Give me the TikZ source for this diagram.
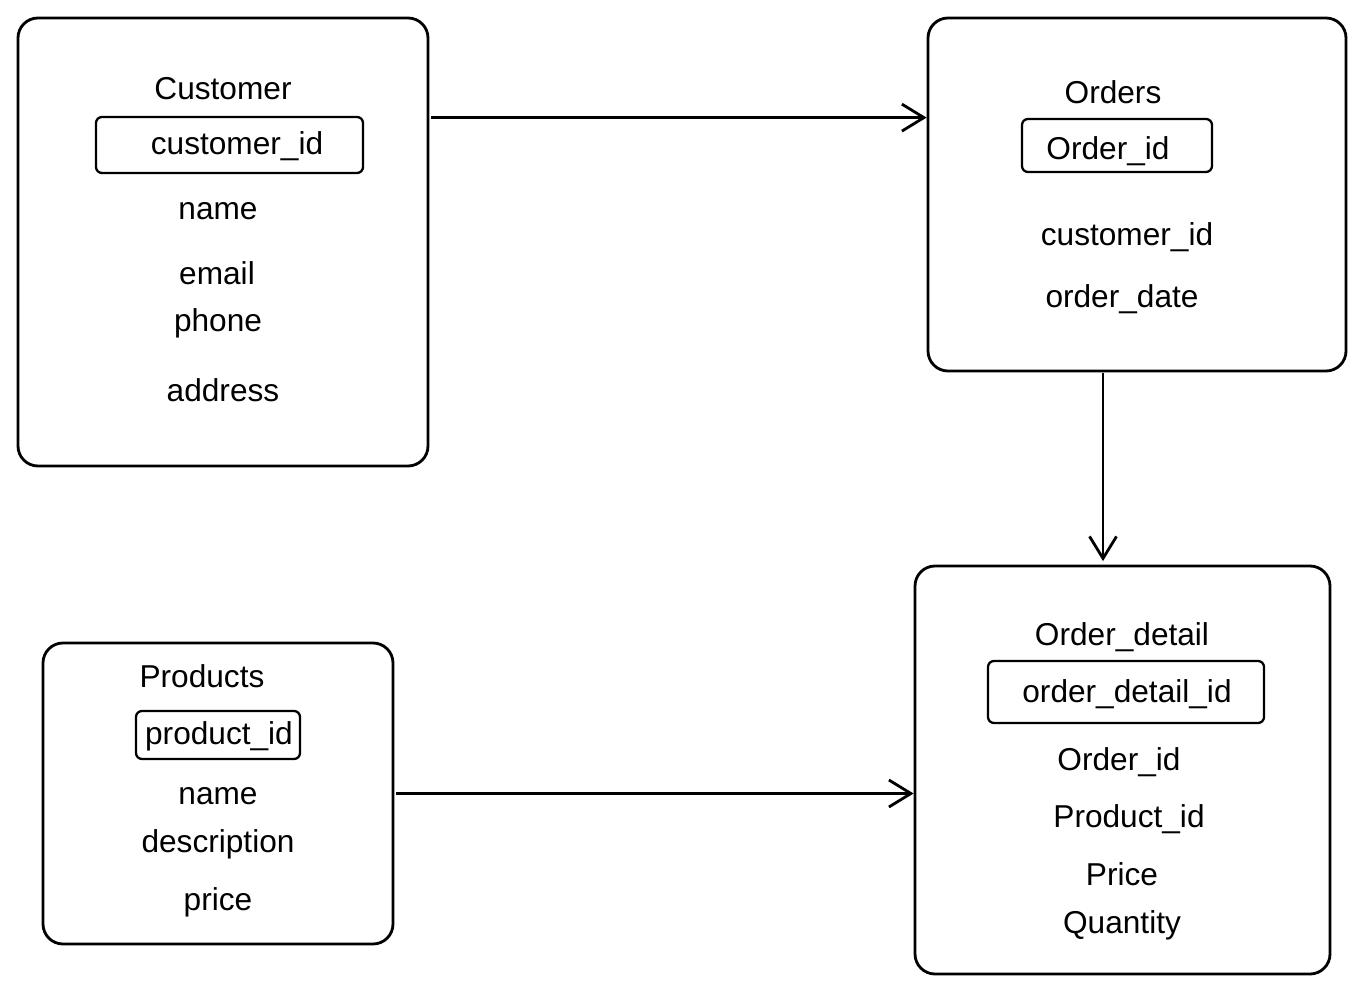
\documentclass[tikz,border=0pt]{standalone}
\usepackage{fontspec}
\setmainfont{Liberation Sans}
\usetikzlibrary{arrows.meta}

\begin{document}
\begin{tikzpicture}
                \tikzstyle{table}=[draw, line width=1.6pt, rounded corners=0.4cm, inner sep=0pt]
                \tikzstyle{keybox}=[draw, line width=1.3pt, rounded corners=0.12cm, inner sep=0pt]
                \tikzstyle{field}=[anchor=base, inner sep=0pt, font=\fontsize{18}{21}\selectfont]
                \tikzstyle{link}=[line width=1.6pt, -{Straight Barb[length=4.4mm, width=5.4mm]}]

                \useasboundingbox (0,0) rectangle (27.34,-19.92);

                % tables
                \node[table, minimum width=8.2cm, minimum height=8.96cm] (a) at (4.46,-4.84) {};
                \node[table, minimum width=8.36cm, minimum height=7.06cm] (b) at (22.74,-3.89) {};
                \node[table, minimum width=8.3cm, minimum height=8.16cm] (d) at (22.45,-15.4) {};
                \node[table, minimum width=7.0cm, minimum height=6.02cm] (p) at (4.36,-15.87) {};

                % key boxes
                \node[keybox, minimum width=5.34cm, minimum height=1.12cm] (ak) at (4.59,-2.90) {};
                \node[keybox, minimum width=3.8cm, minimum height=1.06cm] (bk) at (22.34,-2.91) {};
                \node[keybox, minimum width=5.52cm, minimum height=1.24cm] (dk) at (22.52,-13.84) {};
                \node[keybox, minimum width=3.28cm, minimum height=0.96cm] (pk) at (4.36,-14.70) {};

                % Customer
                \node[field] (a0) at (4.46,-1.98) {Customer};
                \node[field] (a1) at (4.74,-3.08) {customer\_id};
                \node[field] (a2) at (4.36,-4.38) {name};
                \node[field] (a3) at (4.34,-5.68) {email};
                \node[field] (a4) at (4.36,-6.62) {phone};
                \node[field] (a5) at (4.46,-8.02) {address};

                % Orders
                \node[field] (b0) at (22.26,-2.08) {Orders};
                \node[field] (b1) at (22.16,-3.18) {Order\_id};
                \node[field] (b2) at (22.54,-4.90) {customer\_id};
                \node[field] (b3) at (22.44,-6.14) {order\_date};

                % Order_detail
                \node[field] (d0) at (22.44,-12.90) {Order\_detail};
                \node[field] (d1) at (22.54,-14.04) {order\_detail\_id};
                \node[field] (d2) at (22.38,-15.40) {Order\_id};
                \node[field] (d3) at (22.58,-16.54) {Product\_id};
                \node[field] (d4) at (22.44,-17.70) {Price};
                \node[field] (d5) at (22.44,-18.66) {Quantity};

                % Products
                \node[field] (p0) at (4.04,-13.74) {Products};
                \node[field] (p1) at (4.38,-14.88) {product\_id};
                \node[field] (p2) at (4.36,-16.08) {name};
                \node[field] (p3) at (4.36,-17.04) {description};
                \node[field] (p4) at (4.36,-18.20) {price};

                % links
                \coordinate (bd) at (22.06,-7.46);
                \draw[link] ([xshift=1pt, yshift=-1pt]a.east |- ak.north) -- ([yshift=-1pt]b.west |- ak.north);
                \draw[link] (bd) -- ([yshift=2pt]d.north -| bd);
                \draw[link] ([xshift=1pt]p.east) -- (d.west |- p.east);
            \end{tikzpicture}
\end{document}
